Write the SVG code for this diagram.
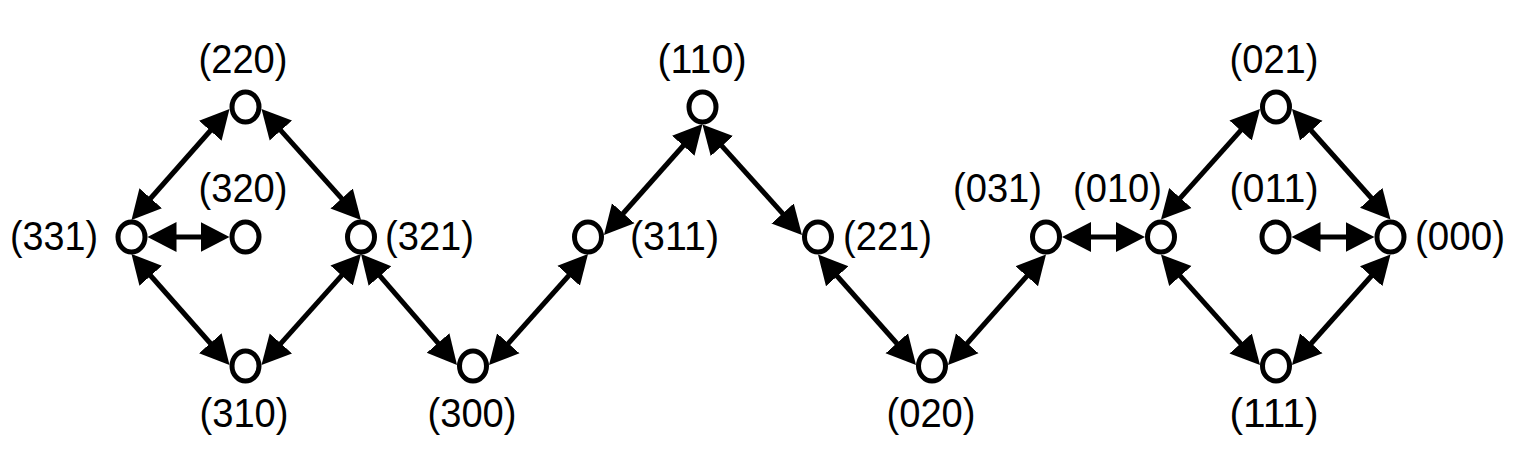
<svg xmlns="http://www.w3.org/2000/svg" width="1518" height="472" viewBox="0 0 1518 472">
<style>
.node{fill:#fff;stroke:#000;stroke-width:5}
.lbl{font-family:"Liberation Sans",Arial,sans-serif;font-size:41.5px;fill:#000}
.mid{text-anchor:middle}
.end{text-anchor:end}
.edge{stroke:#000;stroke-width:5;fill:none;marker-start:url(#ah);marker-end:url(#ah)}
</style>
<defs>
<marker id="ah" markerUnits="userSpaceOnUse" markerWidth="30" markerHeight="32" refX="20" refY="16" orient="auto-start-reverse" viewBox="0 0 30 32">
<path d="M0,1 L29,16 L0,31 z" fill="#000"/>
</marker>
</defs>
<rect width="1518" height="472" fill="#fff"/>
<g id="connectors">
<line class="edge" x1="137.46" y1="213.25" x2="223.54" y2="115.75"/>
<line class="edge" x1="267.51" y1="115.70" x2="354.99" y2="213.30"/>
<line class="edge" x1="156.5" y1="237" x2="220.5" y2="237"/>
<line class="edge" x1="137.46" y1="260.75" x2="223.54" y2="358.25"/>
<line class="edge" x1="267.51" y1="358.30" x2="354.99" y2="260.70"/>
<line class="edge" x1="366.89" y1="260.81" x2="451.11" y2="358.19"/>
<line class="edge" x1="494.99" y1="358.28" x2="582.01" y2="260.72"/>
<line class="edge" x1="609.97" y1="228.27" x2="696.53" y2="130.73"/>
<line class="edge" x1="708.52" y1="131.19" x2="795.98" y2="228.31"/>
<line class="edge" x1="823.97" y1="261.23" x2="910.03" y2="358.27"/>
<line class="edge" x1="953.97" y1="358.27" x2="1040.03" y2="261.23"/>
<line class="edge" x1="1071" y1="237" x2="1136" y2="237"/>
<line class="edge" x1="1167.01" y1="212.80" x2="1253.99" y2="115.70"/>
<line class="edge" x1="1297.99" y1="115.72" x2="1384.51" y2="212.78"/>
<line class="edge" x1="1300.5" y1="237" x2="1365.5" y2="237"/>
<line class="edge" x1="1167.01" y1="261.20" x2="1253.99" y2="358.30"/>
<line class="edge" x1="1297.99" y1="358.28" x2="1384.51" y2="261.22"/>
</g>
<g id="n331"><ellipse class="node" cx="131.5" cy="237" rx="13.5" ry="15"/><text class="lbl end" x="98" y="250" textLength="88" lengthAdjust="spacingAndGlyphs">(331)</text></g>
<g id="n320"><ellipse class="node" cx="245.5" cy="237" rx="13.5" ry="15"/><text class="lbl mid" x="243" y="202" textLength="89" lengthAdjust="spacingAndGlyphs">(320)</text></g>
<g id="n220"><ellipse class="node" cx="245.5" cy="107" rx="13.5" ry="15"/><text class="lbl mid" x="243" y="73" textLength="89" lengthAdjust="spacingAndGlyphs">(220)</text></g>
<g id="n310"><ellipse class="node" cx="245.5" cy="366" rx="13.5" ry="15"/><text class="lbl mid" x="244" y="427" textLength="89" lengthAdjust="spacingAndGlyphs">(310)</text></g>
<g id="n321"><ellipse class="node" cx="361" cy="237" rx="13.5" ry="15"/><text class="lbl" x="385" y="250" textLength="89" lengthAdjust="spacingAndGlyphs">(321)</text></g>
<g id="n300"><ellipse class="node" cx="473" cy="366" rx="13.5" ry="15"/><text class="lbl mid" x="472" y="427" textLength="89" lengthAdjust="spacingAndGlyphs">(300)</text></g>
<g id="n311"><ellipse class="node" cx="588" cy="237" rx="13.5" ry="15"/><text class="lbl" x="630" y="250" textLength="89" lengthAdjust="spacingAndGlyphs">(311)</text></g>
<g id="n110"><ellipse class="node" cx="702.5" cy="107" rx="13.5" ry="15"/><text class="lbl mid" x="702" y="73" textLength="89" lengthAdjust="spacingAndGlyphs">(110)</text></g>
<g id="n221"><ellipse class="node" cx="818" cy="237" rx="13.5" ry="15"/><text class="lbl" x="843" y="250" textLength="89" lengthAdjust="spacingAndGlyphs">(221)</text></g>
<g id="n020"><ellipse class="node" cx="932" cy="366" rx="13.5" ry="15"/><text class="lbl mid" x="931" y="427" textLength="89" lengthAdjust="spacingAndGlyphs">(020)</text></g>
<g id="n031"><ellipse class="node" cx="1046" cy="237" rx="13.5" ry="15"/><text class="lbl end" x="1042" y="202" textLength="89" lengthAdjust="spacingAndGlyphs">(031)</text></g>
<g id="n010"><ellipse class="node" cx="1161" cy="237" rx="13.5" ry="15"/><text class="lbl mid" x="1117.5" y="202" textLength="89" lengthAdjust="spacingAndGlyphs">(010)</text></g>
<g id="n021"><ellipse class="node" cx="1276" cy="107" rx="13.5" ry="15"/><text class="lbl mid" x="1274" y="73" textLength="89" lengthAdjust="spacingAndGlyphs">(021)</text></g>
<g id="n011"><ellipse class="node" cx="1275.5" cy="237" rx="13.5" ry="15"/><text class="lbl mid" x="1274" y="202" textLength="89" lengthAdjust="spacingAndGlyphs">(011)</text></g>
<g id="n000"><ellipse class="node" cx="1390.5" cy="237" rx="13.5" ry="15"/><text class="lbl" x="1415" y="250" textLength="90" lengthAdjust="spacingAndGlyphs">(000)</text></g>
<g id="n111"><ellipse class="node" cx="1276" cy="366" rx="13.5" ry="15"/><text class="lbl mid" x="1274" y="427" textLength="89" lengthAdjust="spacingAndGlyphs">(111)</text></g>
</svg>
